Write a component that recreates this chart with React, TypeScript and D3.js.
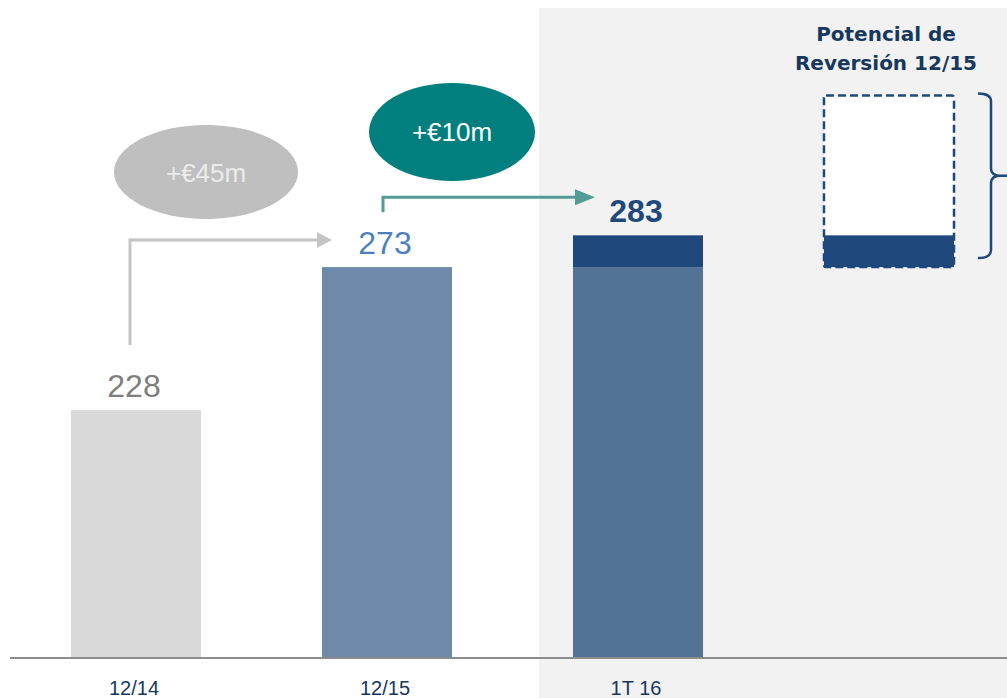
import React from 'react'
import * as d3 from 'd3'

const categories = ['12/14', '12/15', '1T 16']
const totals = [228, 273, 283]
const baseValues = [228, 273, 273]
const barColors = ['#d9d9d9', '#6d8ba8', '#527396']
const labelColors = ['#7f7f7f', '#4f81bd', '#1f497d']
const deltaLabels = ['+€45m', '+€10m']
const potentialTitle = ['Potencial de', 'Reversión 12/15']
const potentialRange = [273, 283, 327]

const W = 1007
const H = 698
const BASE = 658
const NAVY = '#1f497d'

const App = () => {
  const x = d3
    .scaleBand()
    .domain([...categories, 'pot'])
    .range([71, 954])
    .paddingInner(0.482)
    .paddingOuter(0)
  const y = d3.scaleLinear().domain([150, 350]).range([BASE, BASE - 200 * 3.178])
  const bw = x.bandwidth()
  const cx = (c: string) => (x(c) as number) + bw / 2

  const potX = x('pot') as number
  const bx = 991
  const bTop = y(potentialRange[2]) - 2
  const bBot = y(potentialRange[0]) - 9
  const bMid = (bTop + bBot) / 2

  // arrows
  const a1x = cx(categories[0]) - 6
  const a1y = y(totals[1]) - 27
  const a2x = cx(categories[1]) - 4
  const a2y = y(totals[2]) - 38

  return (
    <svg
      width={W}
      height={H}
      style={{ position: 'absolute', left: 0, top: 0 }}
      fontFamily="'Liberation Sans', Arial, sans-serif"
    >
      <rect x={0} y={0} width={W} height={H} fill="#ffffff" />
      <rect x={539} y={8} width={W - 539} height={H - 8} fill="#f2f2f2" />

      {categories.map((c, i) => (
        <g key={c}>
          <rect x={x(c)} y={y(baseValues[i])} width={bw} height={BASE - y(baseValues[i])} fill={barColors[i]} />
          {totals[i] > baseValues[i] && (
            <rect x={x(c)} y={y(totals[i])} width={bw} height={y(baseValues[i]) - y(totals[i])} fill={NAVY} />
          )}
          <text
            x={cx(c) - 2}
            y={y(totals[i]) - 13}
            textAnchor="middle"
            fontSize={32}
            fontWeight={i === 2 ? 'bold' : 'normal'}
            fill={labelColors[i]}
          >
            {totals[i]}
          </text>
          <text x={cx(c) - 2} y={695} textAnchor="middle" fontSize={20} fill="#17375e">
            {c}
          </text>
        </g>
      ))}

      <line x1={10} x2={W} y1={BASE} y2={BASE} stroke="#8c8c8c" strokeWidth={2} />

      {/* +45 annotation */}
      <path d={`M${a1x},${a1y + 105} V${a1y} H${cx(categories[1]) - 69}`} fill="none" stroke="#c4c4c4" strokeWidth={3} />
      <path d={`M${cx(categories[1]) - 70},${a1y - 8} L${cx(categories[1]) - 55},${a1y} L${cx(categories[1]) - 70},${a1y + 8} Z`} fill="#c4c4c4" />
      <ellipse cx={206} cy={172} rx={92} ry={47} fill="#bfbfbf" />
      <text x={206} y={182} textAnchor="middle" fontSize={26} fill="#ececec">
        {deltaLabels[0]}
      </text>

      {/* +10 annotation */}
      <path d={`M${a2x},${a2y + 15} V${a2y} H${cx(categories[2]) - 62}`} fill="none" stroke="#529c96" strokeWidth={3} />
      <path d={`M${cx(categories[2]) - 63},${a2y - 8} L${cx(categories[2]) - 43},${a2y} L${cx(categories[2]) - 63},${a2y + 8} Z`} fill="#529c96" />
      <ellipse cx={452} cy={132} rx={83} ry={49} fill="#007f7e" />
      <text x={452} y={141} textAnchor="middle" fontSize={26} fill="#ffffff">
        {deltaLabels[1]}
      </text>

      {/* potential reversal */}
      {potentialTitle.map((t, i) => (
        <text
          key={t}
          x={886}
          y={41 + i * 29}
          textAnchor="middle"
          fontSize={20}
          fontWeight="bold"
          fontFamily="'DejaVu Sans', Verdana, sans-serif"
          fill="#17375e"
        >
          {t}
        </text>
      ))}
      <rect x={potX} y={y(potentialRange[2])} width={bw} height={y(potentialRange[0]) - y(potentialRange[2])} fill="#ffffff" />
      <rect x={potX} y={y(potentialRange[1])} width={bw} height={y(potentialRange[0]) - y(potentialRange[1])} fill={NAVY} />
      <rect
        x={potX}
        y={y(potentialRange[2])}
        width={bw}
        height={y(potentialRange[0]) - y(potentialRange[2])}
        fill="none"
        stroke={NAVY}
        strokeWidth={2.5}
        strokeDasharray="8 4"
        rx={2}
      />
      <path
        d={`M${bx - 13},${bTop} Q${bx},${bTop} ${bx},${bTop + 8} V${bMid - 7} Q${bx},${bMid} ${bx + 10},${bMid} H${W}
            M${bx + 10},${bMid} Q${bx},${bMid} ${bx},${bMid + 7} V${bBot - 8} Q${bx},${bBot} ${bx - 13},${bBot}`}
        fill="none"
        stroke={NAVY}
        strokeWidth={2.5}
      />
    </svg>
  )
}

export default App
